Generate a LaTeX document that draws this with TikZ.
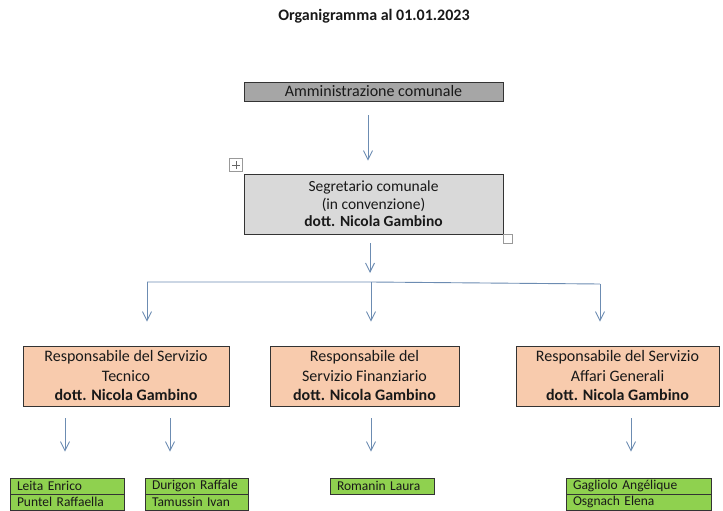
\documentclass[tikz,border=0pt]{standalone}
\usepackage{fontspec}
\setmainfont{Carlito}
\usetikzlibrary{arrows.meta}
\definecolor{arrowc}{HTML}{6C8CB2}
\definecolor{admfill}{HTML}{A6A6A6}
\definecolor{segfill}{HTML}{D9D9D9}
\definecolor{orfill}{HTML}{F8CBAD}
\definecolor{grfill}{HTML}{8FD14F}
\begin{document}
\begin{tikzpicture}[x=1pt,y=-1pt,
  box/.style={draw=black!80, line width=0.9pt, align=center, inner sep=0pt,
    font=\fontsize{16}{19.5}\selectfont, text=black!90},
  arr/.style={draw=arrowc, line width=0.9pt, -{Straight Barb[length=9pt,width=9pt]}},
  busline/.style={draw=arrowc, line width=0.9pt},
  staffrow/.style={draw=black!80, line width=0.8pt, fill=grfill, align=left, inner xsep=7pt, inner ysep=0pt,
    minimum height=16pt, font=\fontsize{13.5}{15}\selectfont, text=black!90},
  wordmark/.style={draw=black!40, line width=0.5pt, inner sep=0pt, fill=white}
]
\useasboundingbox (0,0) rectangle (723,511);

% title
\node[font=\fontsize{16}{19}\selectfont\bfseries, text=black!90] (title) at (374,16) {Organigramma al 01.01.2023};

% top boxes
\node[box, fill=admfill, minimum width=259pt, minimum height=19pt] (admin) at (373.5,91.5) {Amministrazione comunale};
\node[box, fill=segfill, minimum width=259pt, minimum height=60pt, font=\fontsize{15.5}{17.5}\selectfont] (seg) at (373.5,204)
  {Segretario comunale\\(in convenzione)\\\textbf{dott. Nicola Gambino}};

% word handles
\node[wordmark, minimum size=13pt] (handle) at (236,165) {};
\draw[black!60, line width=0.5pt] ([xshift=-4pt]handle.center) -- ([xshift=4pt]handle.center);
\draw[black!60, line width=0.5pt] ([yshift=-4pt]handle.center) -- ([yshift=4pt]handle.center);
\node[wordmark, minimum size=9pt] (resize) at (507.5,238.5) {};

% responsible boxes
\node[box, fill=orfill, minimum width=206pt, minimum height=60pt] (tec) at (126,376)
  {Responsabile del Servizio\\Tecnico\\\textbf{dott. Nicola Gambino}};
\node[box, fill=orfill, minimum width=189pt, minimum height=60pt] (fin) at (364.5,376)
  {Responsabile del\\Servizio Finanziario\\\textbf{dott. Nicola Gambino}};
\node[box, fill=orfill, minimum width=203pt, minimum height=60pt] (aff) at (617.5,376)
  {Responsabile del Servizio\\Affari Generali\\\textbf{dott. Nicola Gambino}};

% staff boxes
\node[staffrow, text width=100pt] (g1a) at (67,486) {Leita Enrico};
\node[staffrow, text width=100pt] (g1b) at (67,502) {Puntel Raffaella};
\node[staffrow, text width=89pt] (g2a) at (196.5,486) {Durigon Raffale};
\node[staffrow, text width=89pt] (g2b) at (196.5,502) {Tamussin Ivan};
\node[staffrow, text width=90pt] (g3) at (382,486) {Romanin Laura};
\node[staffrow, text width=131pt] (g4a) at (638.5,486) {Gagliolo Angélique};
\node[staffrow, text width=131pt] (g4b) at (638.5,502) {Osgnach Elena};

% connectors
\coordinate (a1) at (368,101);
\draw[arr, shorten <=14pt, shorten >=13pt] (a1) -- (a1 |- seg.north);

\coordinate (s1) at (370,234);
\coordinate (busmid) at (371,282);
\coordinate (busL) at (147,282);
\coordinate (busR) at (600,284);
\draw[arr, shorten <=9pt, shorten >=9pt] (s1) -- (s1 |- busmid);
\draw[busline] (busL) -- (busmid) -- (busR);
\draw[arr, shorten >=24pt] (busL) -- (busL |- tec.north);
\draw[arr, shorten >=24pt] (busmid) -- (busmid |- fin.north);
\draw[arr, shorten >=24pt] (busR) -- (busR |- aff.north);

\coordinate (t1) at (65,406);
\coordinate (t2) at (170,406);
\coordinate (f1) at (371,406);
\coordinate (r1) at (631,406);
\draw[arr, shorten <=12pt, shorten >=26pt] (t1) -- (t1 |- g1a.north);
\draw[arr, shorten <=12pt, shorten >=26pt] (t2) -- (t2 |- g2a.north);
\draw[arr, shorten <=12pt, shorten >=26pt] (f1) -- (f1 |- g3.north);
\draw[arr, shorten <=12pt, shorten >=26pt] (r1) -- (r1 |- g4a.north);
\end{tikzpicture}
\end{document}
